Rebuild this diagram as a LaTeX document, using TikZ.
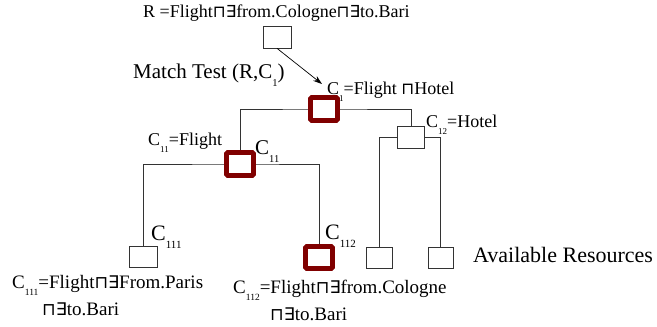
\documentclass[tikz,border=0pt]{standalone}
\usepackage{fontspec}
\usepackage{graphicx}
\setmainfont{Liberation Serif}
\newfontfamily\djvsym{DejaVu Sans}
\usetikzlibrary{arrows.meta}
\newcommand\mysq{{\djvsym\scalebox{0.92}{⊓}}}
\newcommand\myex{{\djvsym\scalebox{0.92}{∃}}}
\newcommand\lowsub[1]{\raisebox{-0.4em}{\scalebox{0.5}{#1}}}
\definecolor{boxred}{RGB}{128,0,0}
\tikzset{
  thinbox/.style={draw=black!80, fill=white, line width=0.7pt, minimum width=#1, minimum height=22pt, inner sep=0pt},
  thinbox/.default=27pt,
  thickbox/.style={draw=boxred, fill=white, line width=4.6pt, rounded corners=1.2pt, minimum width=27pt, minimum height=23pt, inner sep=0pt},
  conn/.style={draw=black!80, line width=0.7pt},
  lbl/.style={inner sep=0pt, anchor=base west, font=\fontsize{#1}{#1}\selectfont},
  lbl/.default=18pt
}
\begin{document}
\begin{tikzpicture}[x=1pt,y=-1pt]
\useasboundingbox (0,0) rectangle (657,327);
\coordinate (c1t) at (324,109);
\coordinate (c11t) at (240,164);
\coordinate (c112t) at (319,257.5);
\node[thinbox=28pt] (root) at (277,37) {};
\node[thinbox] (c12) at (411,137.5) {};
\node[thinbox=28pt, minimum height=21pt] (c111) at (143.5,256.5) {};
\node[thinbox=26pt, minimum height=21pt] (r1) at (379,257.5) {};
\node[thinbox=25pt, minimum height=21pt] (r2) at (440.5,257.5) {};
% connectors (drawn before the thick boxes, which cover them)
\draw[conn] (c11t) |- (c1t) -| (c12.north);
\draw[conn] (c111.north) |- (c11t) -| (c112t);
\draw[conn] (r1.north) |- (c12.west);
\draw[conn] (c12.east) -| (r2.north);
\node[thickbox] (c1) at (c1t) {};
\node[thickbox] (c11) at (c11t) {};
\node[thickbox, minimum height=22pt] (c112) at (c112t) {};
% texts
\node[lbl] (rtext) at (143,17) {R =Flight\mysq\myex from.Cologne\mysq\myex to.Bari};
\node[lbl=21pt] (match) at (133,78) {Match Test (R,C\lowsub{1})};
\node[lbl] (c1lab) at (327,94) {C\lowsub{1}=Flight \mysq Hotel};
\node[lbl] (c12lab) at (426,127) {C\lowsub{12}=Hotel};
\node[lbl] (c11lab) at (148,145) {C\lowsub{11}=Flight};
\node[lbl=21pt] (c11r) at (255,154) {C\lowsub{11}};
\node[lbl=22pt] (c111lab) at (151,240) {C\lowsub{111}};
\node[lbl=22pt] (c112lab) at (325,239) {C\lowsub{112}};
\node[lbl=19pt] (c111d1) at (12,288) {C\lowsub{111}=Flight\mysq\myex From.Paris};
\node[lbl=19pt] (c111d2) at (42,315) {\mysq\myex to.Bari};
\node[lbl=19pt] (c112d1) at (233,293) {C\lowsub{112}=Flight\mysq\myex from.Cologne};
\node[lbl=19pt] (c112d2) at (270,320) {\mysq\myex to.Bari};
\node[lbl=22pt] (avail) at (473,262) {Available Resources};
\coordinate (tip) at (322,84);
\draw[conn, draw=black, -{Stealth[length=9pt,width=6pt]}] (root.south) -- (tip);
\end{tikzpicture}
\end{document}
